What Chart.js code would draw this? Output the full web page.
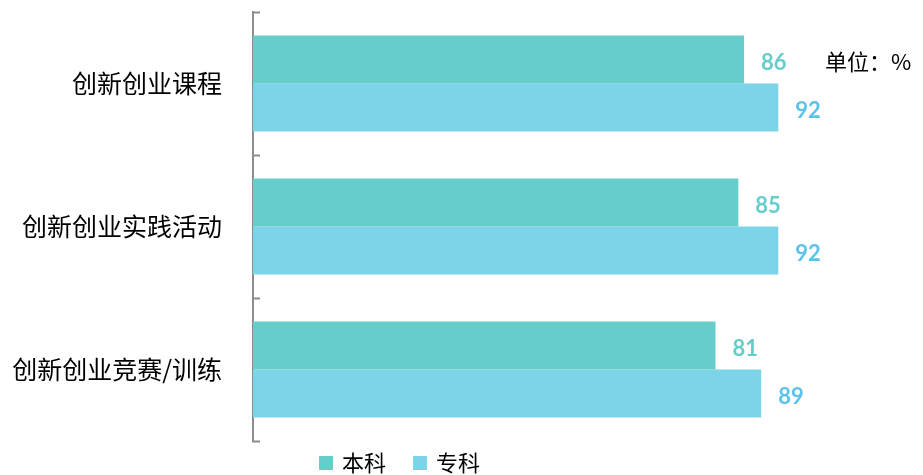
<!DOCTYPE html>
<html>
<head>
<meta charset="utf-8">
<script src="https://cdn.jsdelivr.net/npm/chart.js@4/dist/chart.umd.min.js"></script>
<style>
  html, body { margin: 0; padding: 0; background: #fff; }
  #wrap { width: 923px; height: 475px; }
</style>
</head>
<body>
<div id="wrap"><canvas id="chart"></canvas></div>
<script>
// data
const categories = ['创新创业课程', '创新创业实践活动', '创新创业竞赛/训练'];
const seriesNames = ['本科', '专科'];
const benkeValues = [86, 85, 81];
const zhuankeValues = [92, 92, 89];
const unitText = '单位：%';

const barColors = ['#66cdcb', '#7dd3e8'];
const labelColors = ['#66cccc', '#5cc2ec'];
const cjkFont = '"Noto Sans CJK SC", "Noto Sans", sans-serif';

// value labels at the bar ends + unit text
const valueLabels = {
    id: 'valueLabels',
    afterDatasetsDraw(chart) {
        const ctx = chart.ctx;
        ctx.save();
        ctx.font = 'bold 22px Lato, "Open Sans", sans-serif';
        ctx.textAlign = 'left';
        ctx.textBaseline = 'middle';
        chart.data.datasets.forEach((ds, i) => {
            const meta = chart.getDatasetMeta(i);
            ctx.fillStyle = labelColors[i];
            meta.data.forEach((bar, j) => {
                ctx.fillText(String(ds.data[j]), bar.x + 17, bar.y + 3);
            });
        });
        ctx.fillStyle = '#000';
        ctx.font = '22px ' + cjkFont;
        ctx.fillText(unitText, 825, 62);
        ctx.restore();
    }
};

// legend under the plot
const bottomLegend = {
    id: 'bottomLegend',
    afterDraw(chart) {
        const ctx = chart.ctx;
        ctx.save();
        ctx.font = '22px ' + cjkFont;
        ctx.textBaseline = 'middle';
        ctx.textAlign = 'left';
        let x = 319;
        const y = 463;
        chart.data.datasets.forEach((ds, i) => {
            ctx.fillStyle = ds.backgroundColor;
            ctx.fillRect(x, y - 7, 14, 14);
            ctx.fillStyle = '#000';
            ctx.fillText(ds.label, x + 23, y);
            x += 23 + ctx.measureText(ds.label).width + 27;
        });
        ctx.restore();
    }
};

new Chart(document.getElementById('chart'), {
    type: 'bar',
    data: {
        labels: categories,
        datasets: [{
            label: seriesNames[0],
            data: benkeValues,
            backgroundColor: barColors[0],
            barPercentage: 1,
            categoryPercentage: 0.67
        }, {
            label: seriesNames[1],
            data: zhuankeValues,
            backgroundColor: barColors[1],
            barPercentage: 1,
            categoryPercentage: 0.67
        }]
    },
    options: {
        indexAxis: 'y',
        responsive: true,
        maintainAspectRatio: false,
        animation: false,
        layout: {
            autoPadding: false,
            padding: { left: 0, right: 99, top: 12, bottom: 34 }
        },
        plugins: {
            legend: { display: false },
            tooltip: { enabled: false }
        },
        scales: {
            x: {
                display: false,
                min: 0,
                max: 100
            },
            y: {
                afterFit(scale) {
                    scale.width = 253;
                    // labels sit between ticks, no extra room needed above/below
                    scale.paddingTop = 0;
                    scale.paddingBottom = 0;
                },
                border: { display: true, color: '#8c8c8c', width: 2 },
                grid: {
                    drawOnChartArea: false,
                    drawTicks: true,
                    tickLength: -7,
                    tickWidth: 2,
                    tickColor: '#8c8c8c'
                },
                ticks: {
                    padding: 38,
                    color: '#000',
                    font: { family: cjkFont, size: 25 }
                }
            }
        }
    },
    plugins: [valueLabels, bottomLegend]
});
</script>
</body>
</html>
